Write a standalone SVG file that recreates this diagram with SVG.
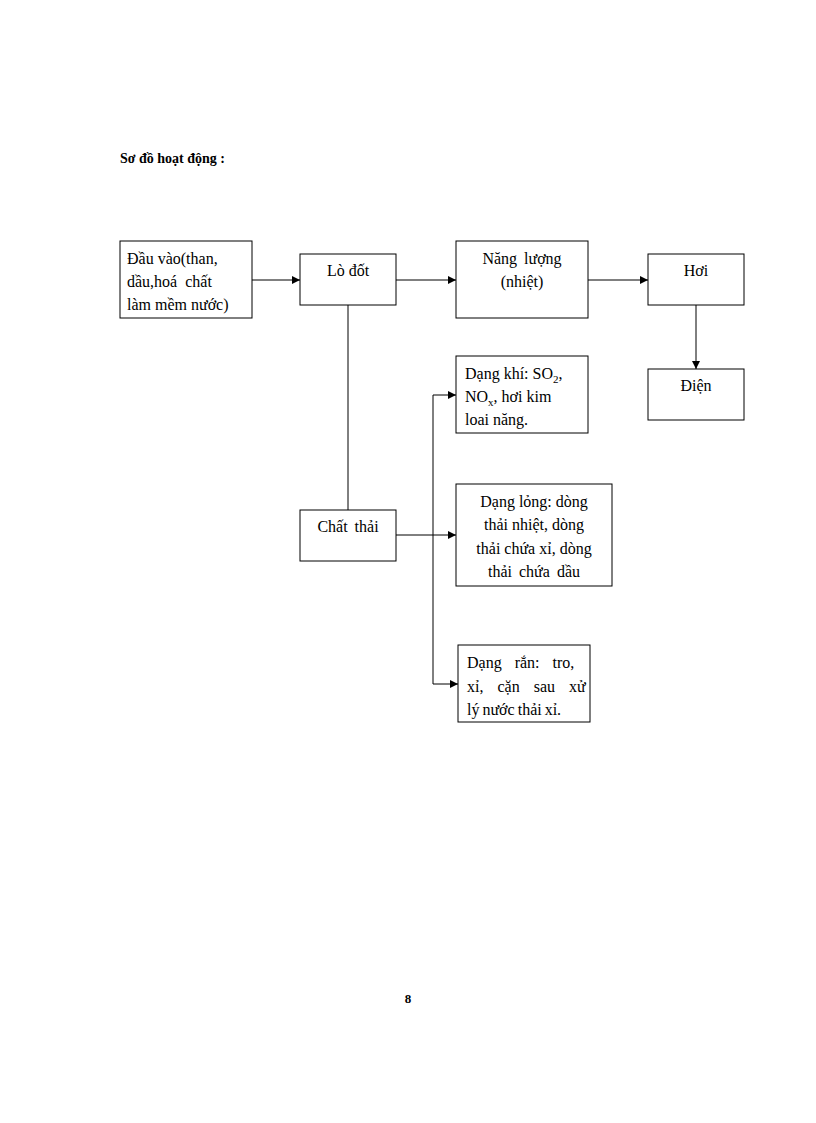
<svg xmlns="http://www.w3.org/2000/svg" width="816" height="1123" viewBox="0 0 816 1123">
<style>
rect{fill:#fff;stroke:#000;stroke-width:1}
text{font-family:"Liberation Serif",serif;font-size:16px;fill:#000}
.c{text-anchor:middle}
.l{fill:none;stroke:#000;stroke-width:1}
</style>
<defs><marker id="a" markerWidth="8" markerHeight="8" refX="8" refY="4" orient="auto" markerUnits="userSpaceOnUse"><path d="M0,0 L8,4 L0,8z"/></marker></defs>
<rect x="0" y="0" width="816" height="1123" style="stroke:none"/>
<text x="120" y="163" style="font-weight:bold;font-size:14px">Sơ đồ hoạt động :</text>
<g id="connectors">
<path class="l" d="M252,280 H300" marker-end="url(#a)"/>
<path class="l" d="M396,280 H456" marker-end="url(#a)"/>
<path class="l" d="M588,280 H648" marker-end="url(#a)"/>
<path class="l" d="M696,305 V369" marker-end="url(#a)"/>
<path class="l" d="M348,305 V510"/>
<path class="l" d="M396,535 H456" marker-end="url(#a)"/>
<path class="l" d="M433,395 V684"/>
<path class="l" d="M433,395 H456" marker-end="url(#a)"/>
<path class="l" d="M433,684 H458" marker-end="url(#a)"/>
</g>
<g id="dauvao"><rect x="120" y="241" width="132" height="77"/>
<text x="127" y="264">Đầu vào(than,</text><text x="127" y="287" word-spacing="4">dầu,hoá chất</text><text x="127" y="310">làm mềm nước)</text></g>
<g id="lodot"><rect x="300" y="254" width="96" height="51"/><text class="c" x="348" y="276">Lò đốt</text></g>
<g id="nangluong"><rect x="456" y="241" width="132" height="77"/>
<text class="c" x="522" y="264" word-spacing="3">Năng lượng</text><text class="c" x="522" y="287">(nhiệt)</text></g>
<g id="hoi"><rect x="648" y="254" width="96" height="51"/><text class="c" x="696" y="276">Hơi</text></g>
<g id="dien"><rect x="648" y="369" width="96" height="51"/><text class="c" x="696" y="391">Điện</text></g>
<g id="khi"><rect x="456" y="356" width="132" height="77"/>
<text x="465" y="379">Dạng khí: SO<tspan font-size="11" dy="4">2</tspan><tspan dy="-4">,</tspan></text>
<text x="465" y="402">NO<tspan font-size="11" dy="4">x</tspan><tspan dy="-4">, hơi kim</tspan></text>
<text x="465" y="425">loai năng.</text></g>
<g id="chatthai"><rect x="300" y="510" width="96" height="51"/><text class="c" x="348" y="532" word-spacing="3">Chất thải</text></g>
<g id="long"><rect x="456" y="484" width="156" height="102"/>
<text class="c" x="534" y="507">Dạng lỏng: dòng</text><text class="c" x="534" y="530">thải nhiệt, dòng</text>
<text class="c" x="534" y="554">thải chứa xỉ, dòng</text><text class="c" x="534" y="577" word-spacing="3">thải chứa dầu</text></g>
<g id="ran"><rect x="458" y="645" width="132" height="77"/>
<text x="467" y="668" word-spacing="9">Dạng rắn: tro,</text>
<text x="467" y="692" word-spacing="10">xỉ, cặn sau xử</text>
<text x="467" y="715" word-spacing="-1">lý nước thải xỉ.</text></g>
<text x="408" y="1003" class="c" style="font-weight:bold;font-size:13px">8</text>
</svg>
